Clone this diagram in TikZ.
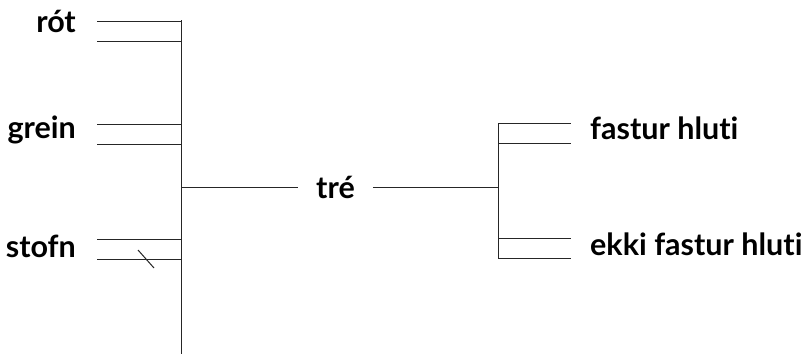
\documentclass[tikz,border=0pt]{standalone}
\usepackage{fontspec}
\setmainfont{Lato}[Ligatures=NoCommon]
\usetikzlibrary{positioning, calc}

\begin{document}
\begin{tikzpicture}[x=1pt,y=-1pt,
    lbl/.style={font=\bfseries\fontsize{30.5}{34}\selectfont, inner sep=0pt},
    stroke/.style={line width=1pt, black!85}]
                \useasboundingbox (0,0) rectangle (807,356);
                % vinstri kvisl
                \coordinate (ltop) at (181,20);
                \coordinate (lbot) at (181,354);
                \coordinate (lmid) at (181,187);
                \draw[stroke] (ltop) -- (lbot);
                \node[lbl, anchor=base east] (rot) at (76,32) {rót};
                \node[lbl, anchor=base east] (grein) at (76,138) {grein};
                \node[lbl, anchor=base east] (stofn) at (76,257) {stofn};
                \coordinate (rotA) at (97,21);
                \coordinate (rotB) at (97,41);
                \coordinate (greinA) at (97,124);
                \coordinate (greinB) at (97,144);
                \coordinate (stofnA) at (97,239);
                \coordinate (stofnB) at (97,259);
                \draw[stroke] (rotA) -- (rotA -| ltop);
                \draw[stroke] (rotB) -- (rotB -| ltop);
                \draw[stroke] (greinA) -- (greinA -| ltop);
                \draw[stroke] (greinB) -- (greinB -| ltop);
                \draw[stroke] (stofnA) -- (stofnA -| ltop);
                \draw[stroke] (stofnB) -- (stofnB -| ltop);
                \draw[stroke] (138,250) -- (154,268);
                % mid
                \node[lbl, inner xsep=18pt] (tre) at (335.5,187) {\vphantom{t}tré};
                \coordinate (rmid) at (498,187);
                \draw[stroke] (lmid) -- (lmid -| tre.west);
                \draw[stroke] (tre.east |- rmid) -- (rmid);
                % haegri kvisl
                \coordinate (rtop) at (498,123);
                \coordinate (rbot) at (498,258);
                \draw[stroke] (rtop) -- (rbot);
                \node[lbl, anchor=base west] (fastur) at (590,139) {fastur hluti};
                \node[lbl, anchor=base west] (ekki) at (590,255) {ekki fastur hluti};
                \coordinate (fasturA) at (571,123);
                \coordinate (fasturB) at (571,143);
                \coordinate (ekkiA) at (571,238);
                \coordinate (ekkiB) at (571,258);
                \draw[stroke] (fasturA -| rtop) -- (fasturA);
                \draw[stroke] (fasturB -| rtop) -- (fasturB);
                \draw[stroke] (ekkiA -| rtop) -- (ekkiA);
                \draw[stroke] (ekkiB -| rtop) -- (ekkiB);
\end{tikzpicture}
\end{document}
